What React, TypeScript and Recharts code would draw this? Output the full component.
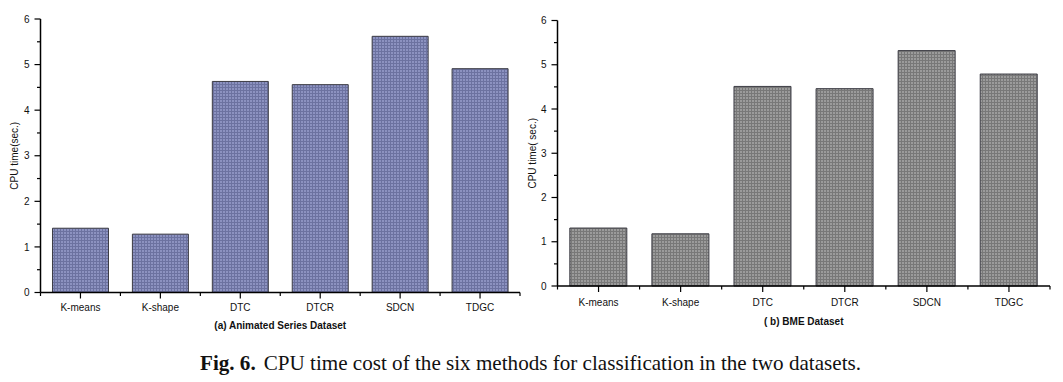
import React from 'react';
import { BarChart, Bar, XAxis, YAxis } from 'recharts';

const methods = ['K-means', 'K-shape', 'DTC', 'DTCR', 'SDCN', 'TDGC'];
const animatedSeriesTime = [1.41, 1.28, 4.63, 4.56, 5.62, 4.91];
const bmeTime = [1.31, 1.18, 4.51, 4.46, 5.32, 4.79];
const yTicks = [0, 0.5, 1, 1.5, 2, 2.5, 3, 3.5, 4, 4.5, 5, 5.5, 6];
const titleA = '(a) Animated Series Dataset';
const titleB = '( b) BME Dataset';
const yLabelA = 'CPU time(sec.)';
const yLabelB = 'CPU time( sec.)';
const captionBold = 'Fig. 6.';
const captionText = 'CPU time cost of the six methods for classification in the two datasets.';

const dataA = methods.map((name, i) => ({ name, value: animatedSeriesTime[i] }));
const dataB = methods.map((name, i) => ({ name, value: bmeTime[i] }));

const FONT = '"Liberation Sans", Arial, sans-serif';

const YTick = (props: any) => {
  const { x, y, payload } = props;
  const major = Number.isInteger(payload.value);
  return (
    <g>
      <line x1={x - (major ? 6 : 3.5)} x2={x} y1={y} y2={y} stroke="#000" strokeWidth={1.2} />
      {major && (
        <text x={x - 11} y={y} dy={3.6} textAnchor="end" fontSize={10} fill="#111" fontFamily={FONT}>
          {payload.value}
        </text>
      )}
    </g>
  );
};

const makeXTick = (band: number, labelDy: number) => (props: any) => {
  const { x, y, payload, index } = props;
  return (
    <g>
      <line x1={x} x2={x} y1={y} y2={y + 6} stroke="#000" strokeWidth={1.2} />
      <line x1={x + band / 2} x2={x + band / 2} y1={y} y2={y + 3.5} stroke="#000" strokeWidth={1.2} />
      {index === 0 && (
        <line x1={x - band / 2} x2={x - band / 2} y1={y} y2={y + 3.5} stroke="#000" strokeWidth={1.2} />
      )}
      <text x={x} y={y + labelDy} textAnchor="middle" fontSize={10} fill="#111" fontFamily={FONT}>
        {payload.value}
      </text>
    </g>
  );
};

type PanelProps = {
  data: { name: string; value: number }[];
  width: number;
  height: number;
  margin: { top: number; right: number; bottom: number; left: number };
  fillId: string;
  bg: string;
  line: string;
  title: string;
  yLabel: string;
  titleOffset: number;
  yLabelOffset: number;
  labelDy: number;
};

const Panel = (p: PanelProps) => {
  const yAxisW = 30;
  const plotW = p.width - p.margin.left - p.margin.right - yAxisW;
  const band = plotW / p.data.length;
  const XTick = makeXTick(band, p.labelDy);
  return (
    <BarChart
      width={p.width}
      height={p.height}
      data={p.data}
      margin={p.margin}
      barCategoryGap="15%"
    >
      <defs>
        <pattern id={p.fillId} width={3} height={3} patternUnits="userSpaceOnUse">
          <rect x={0} y={0} width={3} height={3} fill={p.bg} />
          <rect x={0} y={0} width={3} height={1} fill={p.line} />
          <rect x={0} y={0} width={1} height={3} fill={p.line} />
        </pattern>
      </defs>
      <XAxis
        dataKey="name"
        height={40}
        interval={0}
        tickSize={0}
        tickMargin={0}
        tickLine={false}
        axisLine={{ stroke: '#000', strokeWidth: 1.5 }}
        tick={<XTick />}
        label={{
          value: p.title,
          position: 'insideBottom',
          offset: p.titleOffset,
          fontSize: 10,
          fontWeight: 'bold',
          fill: '#111',
          fontFamily: FONT,
        }}
      />
      <XAxis
        xAxisId="top"
        orientation="top"
        dataKey="name"
        height={0}
        tick={false}
        tickLine={false}
        axisLine={{ stroke: '#000', strokeWidth: 1.2 }}
      />
      <YAxis
        width={yAxisW}
        domain={[0, 6]}
        ticks={yTicks}
        interval={0}
        tickSize={0}
        tickMargin={0}
        tickLine={false}
        axisLine={{ stroke: '#000', strokeWidth: 1.5 }}
        tick={<YTick />}
        label={{
          value: p.yLabel,
          angle: -90,
          position: 'insideLeft',
          offset: p.yLabelOffset,
          style: { textAnchor: 'middle' },
          fontSize: 10,
          fill: '#111',
          fontFamily: FONT,
        }}
      />
      <YAxis
        yAxisId="right"
        orientation="right"
        width={0}
        domain={[0, 6]}
        tick={false}
        tickLine={false}
        axisLine={{ stroke: '#000', strokeWidth: 1.2 }}
      />
      <Bar
        dataKey="value"
        fill={`url(#${p.fillId})`}
        stroke="#3c3c44"
        strokeWidth={1}
        isAnimationActive={false}
      />
    </BarChart>
  );
};

export default function App() {
  return (
    <div
      style={{
        position: 'absolute',
        left: 0,
        top: 0,
        width: 1063,
        height: 382,
        background: '#fff',
        fontFamily: FONT,
      }}
    >
      <div style={{ position: 'absolute', left: 0, top: 0 }}>
        <Panel
          data={dataA}
          width={530}
          height={340}
          margin={{ top: 19, right: 10, bottom: 7.5, left: 10.5 }}
          fillId="patA"
          bg="#8c92c0"
          line="#6c72a0"
          title={titleA}
          yLabel={yLabelA}
          titleOffset={4}
          yLabelOffset={3.7}
          labelDy={18.5}
        />
      </div>
      <div style={{ position: 'absolute', left: 520, top: 0 }}>
        <Panel
          data={dataB}
          width={543}
          height={340}
          margin={{ top: 20.5, right: 13, bottom: 14, left: 7.5 }}
          fillId="patB"
          bg="#9b9b9b"
          line="#787878"
          title={titleB}
          yLabel={yLabelB}
          titleOffset={1}
          yLabelOffset={4.5}
          labelDy={19.5}
        />
      </div>
      <svg
        width={1063}
        height={42}
        style={{ position: 'absolute', left: 0, top: 340 }}
      >
        <text
          x={200}
          y={30}
          fontSize={21}
          fill="#111"
          fontFamily='"Liberation Serif", "Times New Roman", serif'
          textLength={661}
          lengthAdjust="spacingAndGlyphs"
        >
          <tspan fontWeight="bold">{captionBold}</tspan>
          <tspan dx={8}>{captionText}</tspan>
        </text>
      </svg>
    </div>
  );
}
